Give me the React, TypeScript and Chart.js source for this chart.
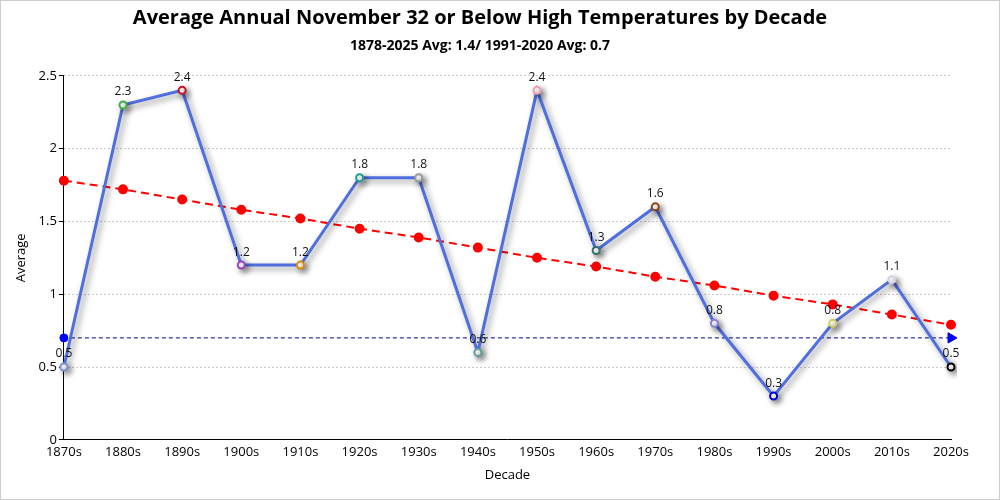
import React, { useEffect, useRef } from "react";
import { Chart, registerables } from "chart.js";

Chart.register(...registerables);

const decades = ["1870s","1880s","1890s","1900s","1910s","1920s","1930s","1940s","1950s","1960s","1970s","1980s","1990s","2000s","2010s","2020s"];
const averages = [0.5, 2.3, 2.4, 1.2, 1.2, 1.8, 1.8, 0.6, 2.4, 1.3, 1.6, 0.8, 0.3, 0.8, 1.1, 0.5];
const trendValues = [1.78, 1.72, 1.65, 1.58, 1.52, 1.45, 1.39, 1.32, 1.25, 1.19, 1.12, 1.06, 0.99, 0.93, 0.86, 0.79];
const normalValue = 0.7;
const normalValues = decades.map(() => normalValue);
const pointColors = ["#7b93d6","#3cb043","#c8102e","#9b3fbf","#e08a00","#20a090","#9a9a9a","#5f9ea0","#f0a0b0","#2f6f6f","#8b4513","#8a7fd0","#0000cc","#d0d060","#d8d0e0","#000000"];
const yTicks = [0, 0.5, 1, 1.5, 2, 2.5];

const FONT = "'Open Sans', 'Noto Sans', sans-serif";

const shadowPlugin = {
  id: "lineShadow",
  beforeDatasetDraw(chart: any, args: any) {
    if (args.index === 0) {
      const ctx = chart.ctx;
      ctx.save();
      ctx.shadowColor = "rgba(0,0,0,0.45)";
      ctx.shadowBlur = 6;
      ctx.shadowOffsetX = 3;
      ctx.shadowOffsetY = 3;
    }
  },
  afterDatasetDraw(chart: any, args: any) {
    if (args.index === 0) chart.ctx.restore();
  },
};

const labelPlugin = {
  id: "valueLabels",
  afterDatasetsDraw(chart: any) {
    const ctx = chart.ctx;
    const meta = chart.getDatasetMeta(0);
    ctx.save();
    ctx.font = `12px ${FONT}`;
    ctx.fillStyle = "#111";
    ctx.textAlign = "center";
    ctx.textBaseline = "bottom";
    meta.data.forEach((pt: any, i: number) => {
      ctx.fillText(String(averages[i]), pt.x, pt.y - 7);
    });
    ctx.restore();
  },
};

export default function App() {
  const ref = useRef<HTMLCanvasElement | null>(null);
  useEffect(() => {
    if (!ref.current) return;
    const chart = new Chart(ref.current, {
      type: "line",
      data: {
        labels: decades,
        datasets: [
          {
            label: "Average",
            data: averages,
            borderColor: "#4f6fdf",
            borderWidth: 3,
            pointBackgroundColor: "#ffffff",
            pointBorderColor: pointColors,
            pointBorderWidth: 2,
            pointRadius: 3.5,
            tension: 0,
            order: 0,
          },
          {
            label: "Trend",
            data: trendValues,
            borderColor: "#ff0000",
            borderWidth: 2,
            borderDash: [8, 5],
            pointBackgroundColor: "#ff0000",
            pointBorderColor: "#ff0000",
            pointRadius: 4,
            order: 1,
          },
          {
            label: "1991-2020 Avg",
            data: normalValues,
            borderColor: "#00008b",
            borderWidth: 1,
            borderDash: [4, 3],
            pointBackgroundColor: "#0000ff",
            pointBorderColor: "#0000ff",
            pointStyle: normalValues.map((_, i) => (i === normalValues.length - 1 ? "triangle" : "circle")),
            pointRotation: normalValues.map((_, i) => (i === normalValues.length - 1 ? 90 : 0)),
            pointRadius: normalValues.map((_, i) => (i === 0 ? 4 : i === normalValues.length - 1 ? 6 : 0)),
            order: 2,
          },
        ],
      },
      options: {
        animation: false,
        responsive: true,
        maintainAspectRatio: false,
        layout: { padding: { left: 8, right: 48, top: 0, bottom: 12 } },
        plugins: {
          legend: { display: false },
          tooltip: { enabled: false },
          title: {
            display: true,
            text: "Average Annual November 32 or Below High Temperatures by Decade",
            color: "#000",
            font: { family: FONT, size: 20, weight: "bold" },
            padding: { top: 5, bottom: 6 },
          },
          subtitle: {
            display: true,
            text: "1878-2025 Avg: 1.4/ 1991-2020 Avg: 0.7",
            color: "#000",
            font: { family: FONT, size: 14, weight: "bold" },
            padding: { top: 2, bottom: 21 },
          },
        },
        scales: {
          x: {
            grid: { display: false, drawTicks: false },
            border: { display: true, color: "#000", width: 1 },
            ticks: { color: "#000", font: { family: FONT, size: 13 }, padding: 5, maxRotation: 0, autoSkip: false },
            title: { display: true, text: "Decade", color: "#000", font: { family: FONT, size: 13 }, padding: { top: 2 } },
          },
          y: {
            min: 0,
            max: 2.5,
            afterBuildTicks(axis: any) {
              axis.ticks = yTicks.map((v) => ({ value: v }));
            },
            grid: {
              color: "#c8c8c8",
              tickColor: "#000",
              tickLength: 5,
              tickBorderDash: [],
            },
            border: { display: true, color: "#000", width: 1, dash: [2, 2] },
            ticks: {
              color: "#000",
              font: { family: FONT, size: 13 },
              padding: 2,
              callback: (v: any) => String(Number(v)),
            },
            title: { display: true, text: "Average", color: "#000", font: { family: FONT, size: 13 }, padding: { bottom: 8 } },
          },
        },
      },
      plugins: [shadowPlugin, labelPlugin],
    });
    return () => chart.destroy();
  }, []);
  return (
    <div
      style={{
        position: "absolute",
        left: 0,
        top: 0,
        width: 1000,
        height: 500,
        boxSizing: "border-box",
        border: "1px solid #cccccc",
        background: "#fff",
      }}
    >
      <canvas ref={ref} />
    </div>
  );
}
